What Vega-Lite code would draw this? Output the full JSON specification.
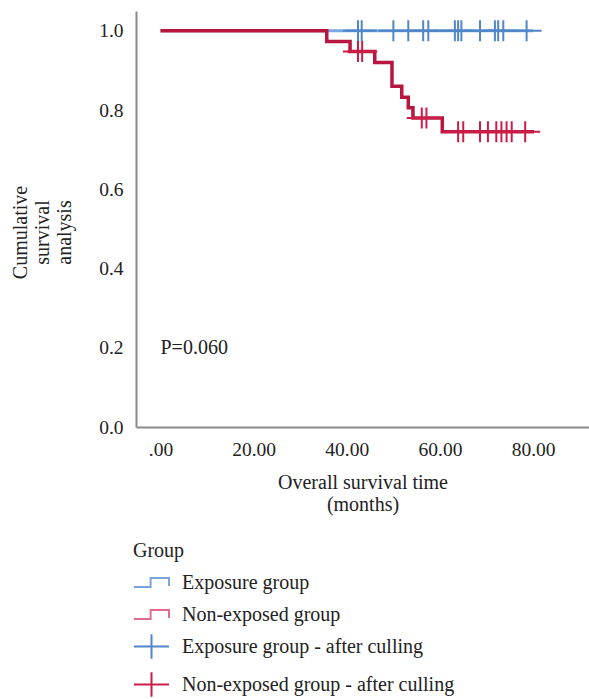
{
  "$schema": "https://vega.github.io/schema/vega-lite/v6.json",
  "autosize": {"type": "none"},
  "padding": {"left": 136, "top": 11, "right": 0, "bottom": 272},
  "width": 453,
  "height": 416,
  "background": "white",
  "config": {
    "view": {"stroke": null},
    "font": "Liberation Serif",
    "axis": {
      "labelFont": "Liberation Serif",
      "titleFont": "Liberation Serif",
      "labelFontSize": 19.5,
      "titleFontSize": 20,
      "titleFontWeight": "normal",
      "labelColor": "#222222",
      "titleColor": "#222222",
      "domainColor": "#8a8a8a",
      "domainWidth": 2,
      "ticks": false,
      "grid": false
    }
  },
  "datasets": {
    "km": [
      {"group": "Exposure group", "t": 0, "S": 1},
      {"group": "Exposure group", "t": 80, "S": 1},
      {"group": "Non-exposed group", "t": 0, "S": 1},
      {"group": "Non-exposed group", "t": 35.7, "S": 0.973},
      {"group": "Non-exposed group", "t": 40.7, "S": 0.948},
      {"group": "Non-exposed group", "t": 46, "S": 0.92},
      {"group": "Non-exposed group", "t": 49.7, "S": 0.86},
      {"group": "Non-exposed group", "t": 51.8, "S": 0.832},
      {"group": "Non-exposed group", "t": 53.2, "S": 0.806},
      {"group": "Non-exposed group", "t": 54.2, "S": 0.78},
      {"group": "Non-exposed group", "t": 60.5, "S": 0.745},
      {"group": "Non-exposed group", "t": 80.2, "S": 0.745}
    ],
    "censored": [
      {"group": "Exposure group - after culling", "t": 42.4, "S": 1},
      {"group": "Exposure group - after culling", "t": 43.2, "S": 1},
      {"group": "Exposure group - after culling", "t": 50.0, "S": 1},
      {"group": "Exposure group - after culling", "t": 53.2, "S": 1},
      {"group": "Exposure group - after culling", "t": 56.4, "S": 1},
      {"group": "Exposure group - after culling", "t": 57.5, "S": 1},
      {"group": "Exposure group - after culling", "t": 63.2, "S": 1},
      {"group": "Exposure group - after culling", "t": 63.9, "S": 1},
      {"group": "Exposure group - after culling", "t": 64.6, "S": 1},
      {"group": "Exposure group - after culling", "t": 68.6, "S": 1},
      {"group": "Exposure group - after culling", "t": 71.8, "S": 1},
      {"group": "Exposure group - after culling", "t": 72.5, "S": 1},
      {"group": "Exposure group - after culling", "t": 73.6, "S": 1},
      {"group": "Exposure group - after culling", "t": 78.6, "S": 1},
      {"group": "Non-exposed group - after culling", "t": 42.4, "S": 0.948},
      {"group": "Non-exposed group - after culling", "t": 43.3, "S": 0.948},
      {"group": "Non-exposed group - after culling", "t": 56.1, "S": 0.78},
      {"group": "Non-exposed group - after culling", "t": 57.1, "S": 0.78},
      {"group": "Non-exposed group - after culling", "t": 63.9, "S": 0.745},
      {"group": "Non-exposed group - after culling", "t": 65.0, "S": 0.745},
      {"group": "Non-exposed group - after culling", "t": 68.6, "S": 0.745},
      {"group": "Non-exposed group - after culling", "t": 70.3, "S": 0.745},
      {"group": "Non-exposed group - after culling", "t": 72.1, "S": 0.745},
      {"group": "Non-exposed group - after culling", "t": 73.2, "S": 0.745},
      {"group": "Non-exposed group - after culling", "t": 74.3, "S": 0.745},
      {"group": "Non-exposed group - after culling", "t": 75.4, "S": 0.745},
      {"group": "Non-exposed group - after culling", "t": 78.3, "S": 0.745}
    ],
    "annot": [
      {"t": 0, "S": 0.184, "label": "P=0.060"}
    ]
  },
  "encoding": {
    "x": {
      "field": "t",
      "type": "quantitative",
      "scale": {"domain": [-5.26, 92], "nice": false, "zero": false},
      "axis": {
        "values": [0, 20, 40, 60, 80],
        "labelExpr": "datum.value === 0 ? '.00' : format(datum.value, '.2f')",
        "labelPadding": 13,
        "title": ["Overall survival time", "(months)"],
        "titleX": 226.5,
        "titleY": 61,
        "titleAlign": "center",
        "titleBaseline": "alphabetic",
        "titleLineHeight": 22
      }
    },
    "y": {
      "field": "S",
      "type": "quantitative",
      "scale": {"domain": [0, 1.05], "nice": false},
      "axis": {
        "values": [0, 0.2, 0.4, 0.6, 0.8, 1.0],
        "format": ".1f",
        "labelPadding": 13,
        "title": ["Cumulative", "survival", "analysis"],
        "titleX": -110,
        "titleY": 221,
        "titleAngle": -90,
        "titleAlign": "center",
        "titleBaseline": "alphabetic",
        "titleLineHeight": 22
      }
    }
  },
  "layer": [
    {
      "data": {"name": "km"},
      "transform": [{"filter": "datum.group === 'Exposure group'"}],
      "mark": {"type": "line", "interpolate": "step-after", "strokeWidth": 3, "color": "#7ba7e0"}
    },
    {
      "data": {"name": "km"},
      "transform": [{"filter": "datum.group === 'Non-exposed group'"}],
      "mark": {"type": "line", "interpolate": "step-after", "strokeWidth": 3.5, "color": "#b8163e"}
    },
    {
      "data": {"name": "censored"},
      "mark": {"type": "point", "filled": false, "strokeWidth": 2, "size": 900, "opacity": 1},
      "encoding": {
        "color": {
          "field": "group",
          "type": "nominal",
          "scale": {
            "domain": ["Exposure group", "Non-exposed group", "Exposure group - after culling", "Non-exposed group - after culling"],
            "range": ["#79a5dc", "#e5698a", "#4f86c8", "#cc1d48"]
          },
          "legend": {
            "title": "Group",
            "orient": "none",
            "legendX": -3,
            "legendY": 530,
            "direction": "vertical",
            "titleFont": "Liberation Serif",
            "labelFont": "Liberation Serif",
            "titleFontSize": 20,
            "labelFontSize": 20,
            "titleFontWeight": "normal",
            "titleColor": "#222222",
            "labelColor": "#222222",
            "titlePadding": 3,
            "symbolSize": 1225,
            "symbolStrokeWidth": 2,
            "labelOffset": 12,
            "rowPadding": 3,
            "labelLimit": 400
          }
        },
        "shape": {
          "field": "group",
          "type": "nominal",
          "scale": {
            "domain": ["Exposure group", "Non-exposed group", "Exposure group - after culling", "Non-exposed group - after culling"],
            "range": ["M-1,0.26H-0.05V-0.26H1V0.2", "M-1,0.26H-0.05V-0.26H1V0.2", "M-1,0H1M0,-0.7V0.7", "M-1,0H1M0,-0.7V0.7"]
          },
          "legend": {
            "title": "Group",
            "orient": "none",
            "legendX": -3,
            "legendY": 530,
            "direction": "vertical",
            "titleFont": "Liberation Serif",
            "labelFont": "Liberation Serif",
            "titleFontSize": 20,
            "labelFontSize": 20,
            "titleFontWeight": "normal",
            "titleColor": "#222222",
            "labelColor": "#222222",
            "titlePadding": 3,
            "symbolSize": 1225,
            "symbolStrokeWidth": 2,
            "labelOffset": 12,
            "rowPadding": 3,
            "labelLimit": 400
          }
        }
      }
    },
    {
      "data": {"name": "annot"},
      "mark": {"type": "text", "align": "left", "baseline": "alphabetic", "fontSize": 20, "font": "Liberation Serif", "color": "#222222"},
      "encoding": {"text": {"field": "label", "type": "nominal"}}
    }
  ]
}
